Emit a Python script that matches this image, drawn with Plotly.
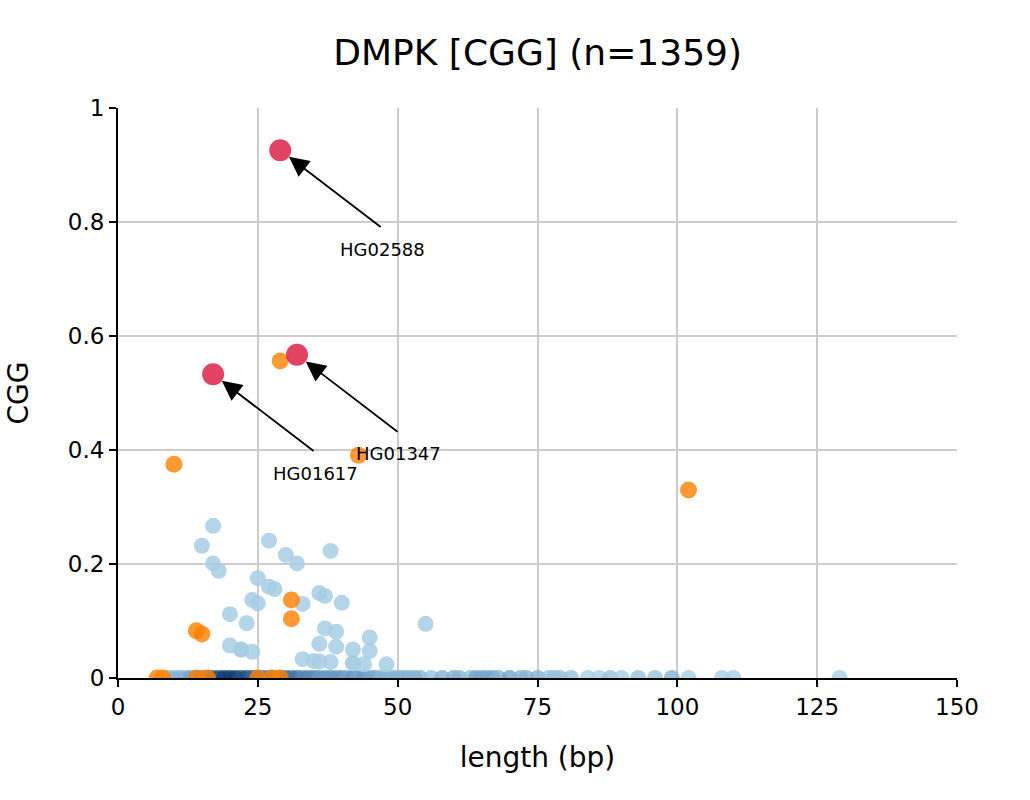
import plotly.graph_objects as go

# ---- data ----
# light-blue samples above baseline
blue_len = [17, 15, 27, 30, 38, 32, 17, 18, 25, 27, 28, 36, 37, 24, 25, 33, 40, 20, 23, 55,
            37, 39, 36, 39, 45, 45, 42, 20, 22, 22, 24, 33, 35, 36, 38, 42, 42, 44, 48]
blue_cgg = [0.267, 0.232, 0.241, 0.216, 0.223, 0.201, 0.201, 0.188, 0.175, 0.160, 0.156, 0.149,
            0.144, 0.137, 0.131, 0.130, 0.132, 0.112, 0.096, 0.095, 0.087, 0.081, 0.060, 0.055,
            0.071, 0.047, 0.050, 0.057, 0.050, 0.050, 0.046, 0.033, 0.030, 0.029, 0.028, 0.026,
            0.026, 0.024, 0.024]

# baseline samples (CGG = 0), colored by number of samples at that length
base_len = [9, 10, 11, 12, 13, 14, 15, 16, 17, 18, 19, 20, 21, 22, 23, 24, 25, 26, 27, 28, 29, 30,
            31, 32, 33, 34, 35, 36, 37, 38, 39, 40, 41, 42, 43, 44, 45, 46, 47, 48, 49, 50, 51,
            52, 53, 54, 56, 58, 60, 61, 63, 64, 65, 66, 67, 68, 70, 72, 73, 75, 77, 78, 79, 81,
            84, 86, 88, 90, 93, 96, 99, 102, 108, 110, 129]
base_cnt = [2, 3, 3, 3, 4, 5, 6, 6, 8, 9, 10, 10, 10, 9, 9, 8, 7, 7, 6, 6, 6, 7,
            7, 7, 6, 6, 6, 5, 5, 5, 5, 5, 4, 5, 4, 5, 4, 4, 3, 3, 3, 3, 3,
            3, 3, 3, 2, 3, 3, 3, 2, 4, 4, 4, 4, 3, 4, 3, 3, 3, 2, 2, 2, 2,
            1, 1, 2, 1, 2, 2, 3, 1, 1, 1, 1]

# orange samples
orange_len = [29, 10, 43, 102, 31, 31, 14, 15, 7, 8, 14, 16, 25, 27.5, 29]
orange_cgg = [0.556, 0.375, 0.391, 0.330, 0.137, 0.104, 0.083, 0.077, 0, 0, 0, 0, 0, 0, 0]

# highlighted samples
red_len = [29, 32, 17]
red_cgg = [0.926, 0.567, 0.533]
red_names = ["HG02588", "HG01347", "HG01617"]

x_ticks = [0, 25, 50, 75, 100, 125, 150]
y_ticks = [0, 0.2, 0.4, 0.6, 0.8, 1]
y_tick_text = ["0", "0.2", "0.4", "0.6", "0.8", "1"]

fig = go.Figure()

fig.add_trace(go.Scatter(
    x=base_len, y=[0] * len(base_len), mode="markers",
    marker=dict(size=16, color=base_cnt, cmin=1, cmax=10,
                colorscale=[[0, "#a6cee3"], [0.5, "#5b8fbf"], [1, "#0e3d72"]],
                opacity=0.8, line=dict(width=0)),
    showlegend=False, hoverinfo="x+y"))

fig.add_trace(go.Scatter(
    x=blue_len, y=blue_cgg, mode="markers",
    marker=dict(size=16, color="#a6cee3", opacity=0.85, line=dict(width=0)),
    showlegend=False))

fig.add_trace(go.Scatter(
    x=orange_len, y=orange_cgg, mode="markers",
    marker=dict(size=17, color="#ff7f00", opacity=0.8, line=dict(width=0)),
    showlegend=False))

fig.add_trace(go.Scatter(
    x=red_len, y=red_cgg, mode="markers", text=red_names,
    marker=dict(size=22, color="#dc143c", opacity=0.8, line=dict(width=0)),
    showlegend=False))

annotations = []
for xv, yv, name in zip(red_len, red_cgg, red_names):
    annotations.append(dict(
        x=xv, y=yv, xref="x", yref="y", text="", showarrow=True,
        ax=102, ay=78, arrowhead=2, arrowsize=2.2, arrowwidth=1.8,
        arrowcolor="black", standoff=11))
    annotations.append(dict(
        x=xv, y=yv, xref="x", yref="y", text=name, showarrow=False,
        xshift=102, yshift=-99, font=dict(size=18, color="black")))

fig.update_layout(
    width=1030, height=800,
    margin=dict(l=118, r=73, t=108, b=122),
    paper_bgcolor="white", plot_bgcolor="white",
    font=dict(family="DejaVu Sans", color="black"),
    title=dict(text="DMPK [CGG] (n=1359)", x=0.522, xanchor="center",
               y=0.935, yanchor="middle", font=dict(size=36)),
    annotations=annotations,
    xaxis=dict(range=[0, 150], tickvals=x_ticks, showgrid=True, gridcolor="#cccccc",
               gridwidth=1.5, showline=True, linecolor="black", linewidth=2,
               ticks="outside", ticklen=7, tickwidth=2, tickcolor="black",
               zeroline=False, tickfont=dict(size=23),
               title=dict(text="length (bp)", font=dict(size=28), standoff=29)),
    yaxis=dict(range=[0, 1], tickvals=y_ticks, ticktext=y_tick_text, showgrid=True,
               gridcolor="#cccccc", gridwidth=1.5, showline=True, linecolor="black",
               linewidth=2, ticks="outside", ticklen=7, tickwidth=2, tickcolor="black",
               zeroline=False, tickfont=dict(size=23),
               title=dict(text="CGG", font=dict(size=28), standoff=31)),
)

fig.write_html("out.html")
